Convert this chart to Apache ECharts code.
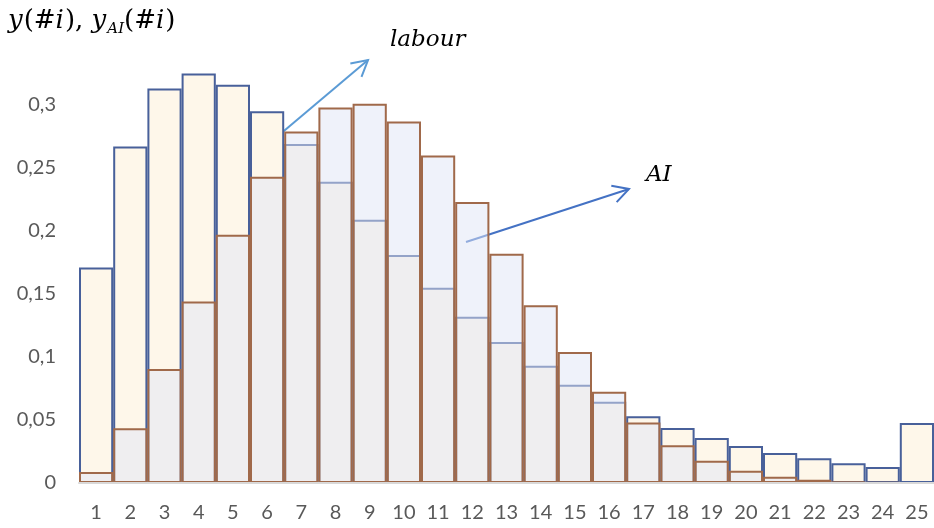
<!DOCTYPE html>
<html>
<head>
<meta charset="utf-8">
<script src="https://cdn.jsdelivr.net/npm/echarts@6/dist/echarts.min.js"></script>
<style>
  html, body { margin: 0; padding: 0; background: #ffffff; }
  #chart { width: 934px; height: 528px; }
</style>
</head>
<body>
<div id="chart"></div>
<script>
// Number of tasks i (category axis)
const categories = ['1','2','3','4','5','6','7','8','9','10','11','12','13',
  '14','15','16','17','18','19','20','21','22','23','24','25'];

// y(#i): labour share per task count
const labourShare = [0.171, 0.267, 0.313, 0.325, 0.316, 0.295, 0.269, 0.239, 0.209,
  0.181, 0.155, 0.132, 0.112, 0.093, 0.078, 0.0645, 0.053, 0.0437, 0.0357,
  0.0294, 0.0238, 0.0196, 0.0156, 0.0127, 0.0476];

// y_AI(#i): AI share per task count
const aiShare = [0.0087, 0.0434, 0.0905, 0.144, 0.197, 0.243, 0.279, 0.298, 0.301,
  0.287, 0.260, 0.223, 0.182, 0.141, 0.104, 0.0725, 0.048, 0.030, 0.0177,
  0.0098, 0.005, 0.0026, 0.0012, 0.0004, 0];

// y-axis range
const yMin = 0, yMax = 0.35, yStep = 0.05, yLastLabel = 0.3;

const chart = echarts.init(document.getElementById('chart'), null, { renderer: 'canvas' });

const serif = '"DejaVu Serif", "Liberation Serif", serif';

// Build the axis title y(#i), y_AI(#i) piece by piece, measuring each run
const measureCtx = document.createElement('canvas').getContext('2d');
function textWidth(str, font) { measureCtx.font = font; return measureCtx.measureText(str).width; }
const titleRuns = [
  { t: 'y', it: true }, { t: '(#', it: false }, { t: 'i', it: true }, { t: '), ', it: false },
  { t: 'y', it: true }, { t: 'AI', it: true, sub: true }, { t: '(#', it: false },
  { t: 'i', it: true }, { t: ')', it: false }
];
const titleElems = [];
let tx = 8;
titleRuns.forEach(function (r) {
  const size = r.sub ? 15 : 26;
  const style = r.it ? 'italic' : 'normal';
  const font = style + ' ' + size + 'px ' + serif;
  titleElems.push({
    type: 'text', x: tx, y: r.sub ? 22 : 8,
    style: { text: r.t, font: font, fill: '#000000', verticalAlign: 'top', align: 'left' }
  });
  tx += textWidth(r.t, font) + (r.it && !r.sub ? 1 : 0);
});

// Open-headed arrow used for the series call-outs
function arrow(x1, y1, x2, y2, color) {
  const ang = Math.atan2(y1 - y2, x1 - x2);
  const L = 18, spread = 0.5;
  const h1 = [x2 + L * Math.cos(ang + spread), y2 + L * Math.sin(ang + spread)];
  const h2 = [x2 + L * Math.cos(ang - spread), y2 + L * Math.sin(ang - spread)];
  return [
    { type: 'line', shape: { x1: x1, y1: y1, x2: x2, y2: y2 },
      style: { stroke: color, lineWidth: 2 } },
    { type: 'polyline', shape: { points: [h1, [x2, y2], h2] },
      style: { stroke: color, lineWidth: 2, fill: null } }
  ];
}

const option = {
  animation: false,
  backgroundColor: '#ffffff',
  grid: { left: 79, right: 0, top: 42, bottom: 45, containLabel: false },
  xAxis: {
    type: 'category',
    data: categories,
    z: 10,
    axisTick: { show: false },
    axisLine: { show: true, lineStyle: { color: '#D9D9D9', width: 2 } },
    axisLabel: { color: '#595959', fontSize: 20, fontFamily: 'Lato, "Open Sans", sans-serif', margin: 20 }
  },
  yAxis: {
    type: 'value',
    min: yMin, max: yMax, interval: yStep,
    splitLine: { show: false },
    axisLine: { show: false },
    axisTick: { show: false },
    axisLabel: {
      color: '#595959', fontSize: 20, fontFamily: 'Lato, "Open Sans", sans-serif', margin: 23,
      formatter: function (v) {
        if (v > yLastLabel + 1e-9) return '';
        return String(parseFloat(v.toFixed(2))).replace('.', ',');
      }
    }
  },
  series: [
    {
      name: 'labour', type: 'bar', data: labourShare,
      barCategoryGap: '0%', barGap: '-100%',
      itemStyle: { color: '#FEF7EA', borderColor: '#48609A', borderWidth: 2 }
    },
    {
      name: 'AI', type: 'bar', data: aiShare,
      barCategoryGap: '0%', barGap: '-100%',
      itemStyle: { color: 'rgba(223,229,245,0.5)', borderColor: '#A0694A', borderWidth: 2 }
    }
  ],
  graphic: titleElems
    .concat(arrow(259, 152, 368, 60, '#5B9BD5'))
    .concat(arrow(466, 242, 629, 189, '#4472C4'))
    .concat([
      { type: 'text', x: 390, y: 29,
        style: { text: 'labour', font: 'italic 23px ' + serif, fill: '#000000', verticalAlign: 'top' } },
      { type: 'text', x: 646, y: 164,
        style: { text: 'AI', font: 'italic 23px ' + serif, fill: '#000000', verticalAlign: 'top' } }
    ])
};

chart.setOption(option);
</script>
</body>
</html>
